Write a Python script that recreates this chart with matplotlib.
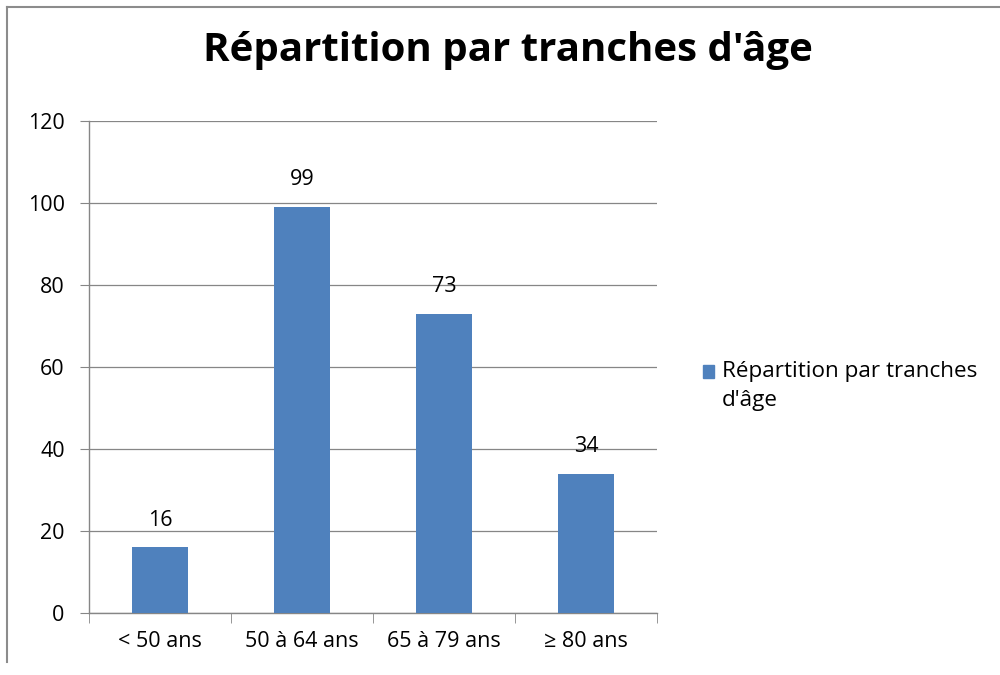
import matplotlib.pyplot as plt
from matplotlib.lines import Line2D
from matplotlib.patches import Rectangle

categories = ["< 50 ans", "50 à 64 ans", "65 à 79 ans", "≥ 80 ans"]
values = [16, 99, 73, 34]
series_name = "Répartition par tranches\nd'âge"
title = "Répartition par tranches d'âge"

plt.rcParams['font.family'] = ['Open Sans', 'DejaVu Sans']
bar_color = "#4F81BD"
axis_gray = "#868686"

fig = plt.figure(figsize=(10, 6.75), dpi=100)
ax = fig.add_axes([0.089, 0.0919, 0.568, 0.7288])

x = list(range(len(categories)))
bars = ax.bar(x, values, width=0.4, color=bar_color, zorder=3)

# value labels
for b, v in zip(bars, values):
    ax.annotate(str(v), (b.get_x() + b.get_width() / 2, v), xytext=(0, 12),
                textcoords="offset points", ha="center", va="bottom", fontsize=15.5)

ax.set_xlim(-0.5, len(categories) - 0.5)
ax.set_ylim(0, 120)
ax.set_yticks(range(0, 121, 20))
ax.tick_params(axis="y", labelsize=15.5, length=6.5, color=axis_gray, pad=11)
ax.yaxis.grid(True, color=axis_gray, linewidth=0.9, zorder=0)

# category labels centred, tick marks between categories
ax.set_xticks(x)
ax.set_xticklabels(categories, fontsize=15.5)
ax.tick_params(axis="x", which="major", length=0, pad=13)
ax.set_xticks([i - 0.5 for i in range(len(categories) + 1)], minor=True)
ax.tick_params(axis="x", which="minor", length=7, color=axis_gray)

for side in ["top", "right"]:
    ax.spines[side].set_visible(False)
for side in ["left", "bottom"]:
    ax.spines[side].set_color(axis_gray)
    ax.spines[side].set_linewidth(1.0)

fig.text(0.508, 0.925, title, ha="center", va="center", fontsize=29, fontweight="bold",
         family=['Open Sans', 'DejaVu Sans'])

# legend, Excel style: square lined up with the first text line
fig.add_artist(Rectangle((0.703, 0.440), 0.011, 0.019, color=bar_color,
                         transform=fig.transFigure))
fig.text(0.722, 0.428, series_name, ha="left", va="center", fontsize=16.2,
         linespacing=1.47)

# chart border (top and left visible)
fig.add_artist(Line2D([0.007, 1.0], [0.99, 0.99], color="#8c8c8c", linewidth=1.5))
fig.add_artist(Line2D([0.007, 0.007], [0.02, 0.99], color="#8c8c8c", linewidth=1.5))

fig.savefig("out.png", dpi=100)
